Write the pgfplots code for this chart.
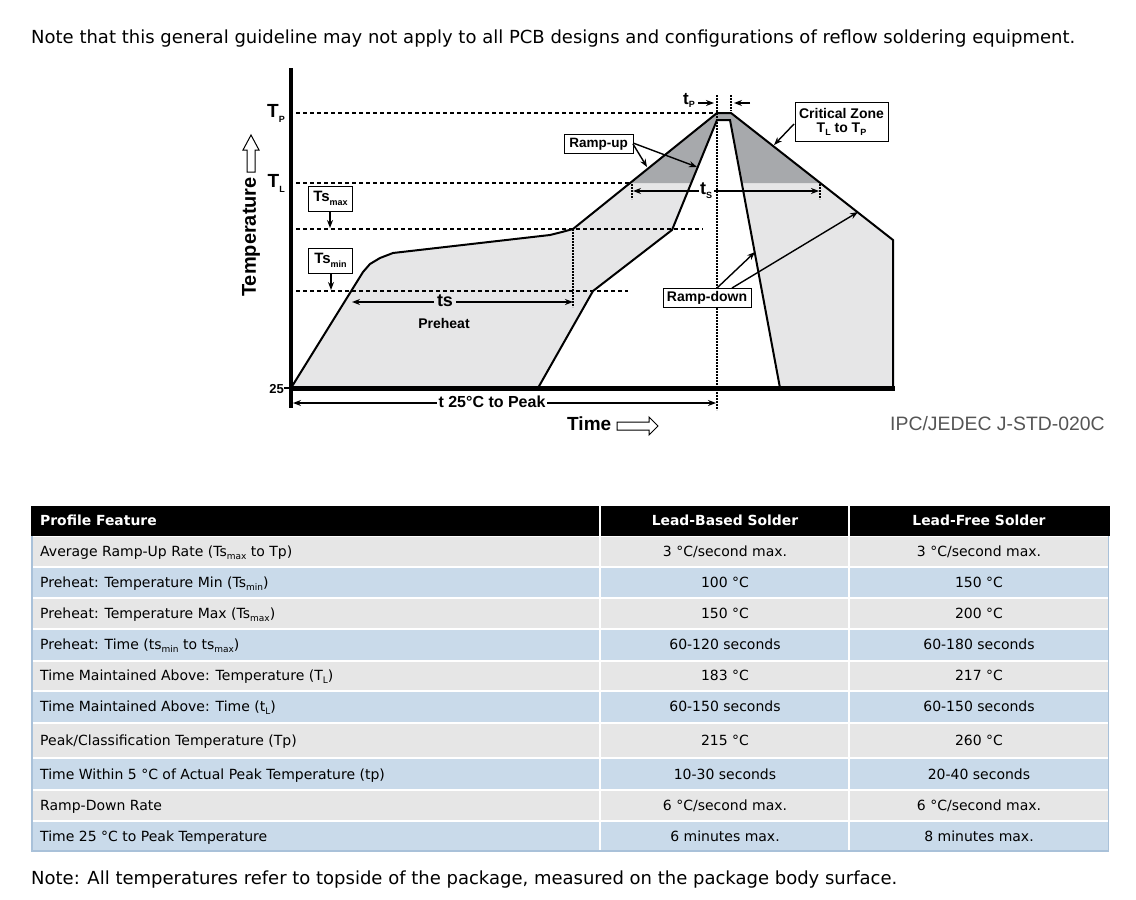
\documentclass[border=0pt]{standalone}
\usepackage{pgfplots}
\pgfplotsset{compat=1.18}
\usepackage{fontspec}
\setmainfont{DejaVu Sans}
\newfontfamily\arl{Liberation Sans}
\usetikzlibrary{arrows.meta}
\definecolor{lgray}{HTML}{E6E6E7}
\definecolor{dgray}{HTML}{A7A9AC}
\definecolor{rowgray}{HTML}{E6E6E6}
\definecolor{rowblue}{HTML}{C9DAEA}
\definecolor{edgeblue}{HTML}{A9C1D9}
\definecolor{ipcgray}{HTML}{555555}
\newcommand{\fs}[1]{\fontsize{#1bp}{#1bp}\selectfont}
\newcommand{\tsub}[1]{\raisebox{-3.5bp}{\fs{9}#1}}
\newcommand{\csub}[2][-3bp]{\raisebox{#1}{\fs{9}#2}}
\tikzset{
  arr/.style={-{Stealth[length=8bp,width=6bp]}, line width=1.4bp},
  darr/.style={{Stealth[length=8bp,width=6bp]}-{Stealth[length=8bp,width=6bp]}, line width=1.4bp},
  box/.style={draw, line width=1bp, fill=white, inner sep=0pt, align=center, font=\arl\bfseries\fs{13.5}},
  cellL/.style={anchor=base west, inner sep=0pt, font=\fs{14}},
  cellC/.style={anchor=base, inner sep=0pt, font=\fs{14}},
}
\begin{document}
\begin{tikzpicture}
\begin{axis}[
  scale only axis, width=1136bp, height=900bp,
  xmin=0, xmax=1136, ymin=0, ymax=900, y dir=reverse,
  hide axis, clip=false, no markers,
]
\path (axis cs:0,0) rectangle (axis cs:1136,900);

% ---- top note
\node[anchor=base west, inner sep=0pt, font=\fs{18}] at (axis cs:31,43)
  {Note that this general guideline may not apply to all PCB designs and configurations of reflow soldering equipment.};

% ---- profile areas
\addplot[fill=lgray, draw=none] coordinates {
  (291,388)(363,272)(370,264)(380,258)(393,253)(550,235)(562,232)(573,229)
  (717,113)(731,113)(893,240)(893,388)
  (780,388)(730,120)(717,120)(672,230)(593,291)(538,388)};
\addplot[fill=dgray, draw=none] coordinates {
  (630,183)(717,113)(731,113)(820,183)(742,183)(730,120)(717,120)(692,183)};

% ---- guide lines
\addplot[black, line width=1.5bp, dash pattern=on 4bp off 3bp] coordinates {(296,113)(717,113)};
\addplot[black, line width=1.5bp, dash pattern=on 4bp off 3bp] coordinates {(296,183)(630,183)};
\addplot[black, line width=1.5bp, dash pattern=on 4bp off 3bp] coordinates {(296,229)(703,229)};
\addplot[black, line width=1.5bp, dash pattern=on 4bp off 3bp] coordinates {(296,291)(628,291)};
\addplot[black, line width=1.3bp, dash pattern=on 1.5bp off 1.5bp] coordinates {(717,95)(717,410)};
\addplot[black, line width=1.3bp, dash pattern=on 1.5bp off 1.5bp] coordinates {(731,95)(731,111)};
\addplot[black, line width=1.3bp, dash pattern=on 1.5bp off 1.5bp] coordinates {(573,229)(573,307)};
\addplot[black, line width=1.3bp, dash pattern=on 1.5bp off 1.5bp] coordinates {(632,184)(632,199)};
\addplot[black, line width=1.3bp, dash pattern=on 1.5bp off 1.5bp] coordinates {(820,184)(820,199)};

% ---- profiles
\addplot[black, line width=2bp] coordinates {
  (291,388)(363,272)(370,264)(380,258)(393,253)(550,235)(562,232)(573,229)
  (717,113)(731,113)(893,240)(893,388)};
\addplot[black, line width=2bp] coordinates {
  (538,388)(593,291)(672,230)(717,120)(730,120)(780,388)};

% ---- axes
\addplot[black, line width=4bp] coordinates {(291,68)(291,408)};
\addplot[black, line width=5bp] coordinates {(289,388)(895,388)};
\addplot[black, line width=1.5bp] coordinates {(284,388)(291,388)};

% ---- axis labels
\node[anchor=east, inner sep=0pt, font=\arl\bfseries\fs{19}] at (axis cs:285,113) {T\csub[-5bp]{P}};
\node[anchor=east, inner sep=0pt, font=\arl\bfseries\fs{19}] at (axis cs:285,183) {T\csub[-5bp]{L}};
\node[anchor=east, inner sep=0pt, font=\arl\bfseries\fs{13}] at (axis cs:284,389) {25};
\node[rotate=90, inner sep=0pt, font=\arl\bfseries\fs{20}] at (axis cs:251,237) {Temperature};
\addplot[fill=white, draw=black, line width=1bp] coordinates {
  (247,172)(247,150)(243,150)(251,135)(259,150)(255,150)(255,172)} -- cycle;
\node[anchor=west, inner sep=0pt, font=\arl\bfseries\fs{19}] at (axis cs:567,424) {Time};
\addplot[fill=white, draw=black, line width=1bp] coordinates {
  (617,422)(649,422)(649,417)(658,426)(649,435)(649,430)(617,430)} -- cycle;
\node[anchor=west, inner sep=0pt, text=ipcgray, font=\arl\fs{19.4}] at (axis cs:890,424) {IPC/JEDEC J-STD-020C};

% ---- Ts boxes
\node[box, minimum width=44bp, minimum height=25bp, font=\arl\bfseries\fs{15}] at (axis cs:330.5,198.5) {Ts\csub[-4bp]{max}};
\addplot[arr] coordinates {(330,211)(330,228)};
\node[box, minimum width=44bp, minimum height=25bp, font=\arl\bfseries\fs{15}] at (axis cs:330.5,260.5) {Ts\csub[-4bp]{min}};
\addplot[arr] coordinates {(331,273)(331,290)};

% ---- preheat
\addplot[darr] coordinates {(352,302)(573,302)};
\node[fill=lgray, inner sep=3pt, font=\arl\bfseries\fs{18}] at (axis cs:445,301) {ts};
\node[font=\arl\bfseries\fs{14}] at (axis cs:444,323) {Preheat};

% ---- time to peak
\addplot[darr] coordinates {(293,403)(716,403)};
\node[fill=white, inner sep=2pt, font=\arl\bfseries\fs{16}] at (axis cs:492,402) {t 25\textdegree C to Peak};

% ---- time above liquidus
\addplot[darr] coordinates {(633,191)(819,191)};
\node[fill=white, inner sep=1.5pt, font=\arl\bfseries\fs{18}] at (axis cs:706,191) {t\csub[-4bp]{S}};

% ---- tp
\node[inner sep=0pt, font=\arl\bfseries\fs{17}] at (axis cs:689,100) {t\csub[-3bp]{P}};
\addplot[arr] coordinates {(698,103)(714,103)};
\addplot[arr] coordinates {(750,103)(734,103)};

% ---- callouts
\node[box, minimum width=69bp, minimum height=19bp] at (axis cs:598.5,144) {Ramp-up};
\addplot[arr] coordinates {(633,144)(647,167)};
\addplot[arr] coordinates {(633,143)(697,167)};
\node[box, minimum width=93bp, minimum height=38bp, font=\arl\bfseries\fs{14}] at (axis cs:841.5,122)
  {Critical Zone\\T\csub[-3bp]{L} to T\csub[-3bp]{P}};
\addplot[arr] coordinates {(794,124)(774,145)};
\node[box, minimum width=88bp, minimum height=19bp, font=\arl\bfseries\fs{14}] at (axis cs:707,297.5) {Ramp-down};
\addplot[arr] coordinates {(717,288)(755,252)};
\addplot[arr] coordinates {(732,288)(858,212)};

% ---- table
\fill[black] (axis cs:31,506) rectangle (axis cs:1110,536);
\fill[rowgray] (axis cs:32,537) rectangle (axis cs:1108,566);
\fill[rowblue] (axis cs:32,568) rectangle (axis cs:1108,597);
\fill[rowgray] (axis cs:32,599) rectangle (axis cs:1108,628);
\fill[rowblue] (axis cs:32,630) rectangle (axis cs:1108,660);
\fill[rowgray] (axis cs:32,662) rectangle (axis cs:1108,690);
\fill[rowblue] (axis cs:32,692) rectangle (axis cs:1108,722);
\fill[rowgray] (axis cs:32,724) rectangle (axis cs:1108,757);
\fill[rowblue] (axis cs:32,759) rectangle (axis cs:1108,789);
\fill[rowgray] (axis cs:32,791) rectangle (axis cs:1108,820);
\fill[rowblue] (axis cs:32,822) rectangle (axis cs:1108,850);
\draw[edgeblue, line width=1.5bp] (axis cs:31.8,536) -- (axis cs:31.8,851) -- (axis cs:1108.5,851) -- (axis cs:1108.5,536);
\draw[white, line width=1.5bp] (axis cs:600,506) -- (axis cs:600,850);
\draw[white, line width=1.5bp] (axis cs:849,506) -- (axis cs:849,850);

\node[anchor=base west, inner sep=0pt, text=white, font=\bfseries\fs{13.9}] at (axis cs:40,525) {Profile Feature};
\node[anchor=base, inner sep=0pt, text=white, font=\bfseries\fs{13.9}] at (axis cs:725,525) {Lead-Based Solder};
\node[anchor=base, inner sep=0pt, text=white, font=\bfseries\fs{13.9}] at (axis cs:979,525) {Lead-Free Solder};

\node[cellL] at (axis cs:40,556) {Average Ramp-Up Rate (Ts\tsub{max} to Tp)};
\node[cellL] at (axis cs:40,587) {Preheat: Temperature Min (Ts\tsub{min})};
\node[cellL] at (axis cs:40,618) {Preheat: Temperature Max (Ts\tsub{max})};
\node[cellL] at (axis cs:40,649) {Preheat: Time (ts\tsub{min} to ts\tsub{max})};
\node[cellL] at (axis cs:40,680) {Time Maintained Above: Temperature (T\tsub{L})};
\node[cellL] at (axis cs:40,711) {Time Maintained Above: Time (t\tsub{L})};
\node[cellL] at (axis cs:40,745) {Peak/Classification Temperature (Tp)};
\node[cellL] at (axis cs:40,779) {Time Within 5 °C of Actual Peak Temperature (tp)};
\node[cellL] at (axis cs:40,810) {Ramp-Down Rate};
\node[cellL] at (axis cs:40,841) {Time 25 °C to Peak Temperature};

\node[cellC] at (axis cs:725,556) {3 °C/second max.};
\node[cellC] at (axis cs:725,587) {100 °C};
\node[cellC] at (axis cs:725,618) {150 °C};
\node[cellC] at (axis cs:725,649) {60-120 seconds};
\node[cellC] at (axis cs:725,680) {183 °C};
\node[cellC] at (axis cs:725,711) {60-150 seconds};
\node[cellC] at (axis cs:725,745) {215 °C};
\node[cellC] at (axis cs:725,779) {10-30 seconds};
\node[cellC] at (axis cs:725,810) {6 °C/second max.};
\node[cellC] at (axis cs:725,841) {6 minutes max.};

\node[cellC] at (axis cs:979,556) {3 °C/second max.};
\node[cellC] at (axis cs:979,587) {150 °C};
\node[cellC] at (axis cs:979,618) {200 °C};
\node[cellC] at (axis cs:979,649) {60-180 seconds};
\node[cellC] at (axis cs:979,680) {217 °C};
\node[cellC] at (axis cs:979,711) {60-150 seconds};
\node[cellC] at (axis cs:979,745) {260 °C};
\node[cellC] at (axis cs:979,779) {20-40 seconds};
\node[cellC] at (axis cs:979,810) {6 °C/second max.};
\node[cellC] at (axis cs:979,841) {8 minutes max.};

% ---- bottom note
\node[anchor=base west, inner sep=0pt, font=\fs{18}] at (axis cs:31,884)
  {Note: All temperatures refer to topside of the package, measured on the package body surface.};
\end{axis}
\end{tikzpicture}
\end{document}
